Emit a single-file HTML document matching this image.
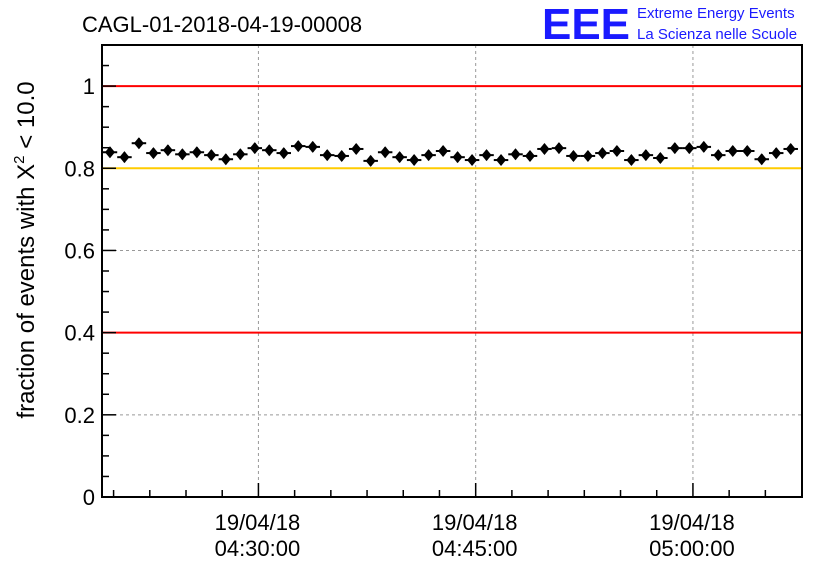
<!DOCTYPE html>
<html><head><meta charset="utf-8"><style>
body{margin:0;background:#fff;}
svg{font-family:"Liberation Sans",sans-serif;}
</style></head><body>
<svg id="c" width="836" height="572" xmlns="http://www.w3.org/2000/svg">
<text x="82" y="32" font-size="22">CAGL-01-2018-04-19-00008</text>
<g>
<text x="542" y="39" font-size="44" font-weight="bold" fill="#1a1aff" textLength="88" lengthAdjust="spacingAndGlyphs">EEE</text>
<text x="637" y="18" font-size="15" fill="#1a1aff">Extreme Energy Events</text>
<text x="637" y="39" font-size="15" fill="#1a1aff">La Scienza nelle Scuole</text>
</g>
<text transform="translate(34,250) rotate(-90)" text-anchor="middle" font-size="24">fraction of events with X<tspan dy="-10" font-size="15">2</tspan><tspan dy="10"> &lt; 10.0</tspan></text>
<g id="plot"></g>
</svg>
<script>
const values=[.839,.827,.861,.837,.844,.834,.839,.832,.822,.834,.849,.844,.837,.854,.852,.832,.830,.847,.818,.839,.827,.820,.832,.842,.827,.820,.832,.820,.834,.830,.847,.849,.830,.830,.837,.842,.820,.832,.825,.849,.849,.852,.832,.842,.842,.822,.837,.847];
const firstMinute=-10.25; // minutes relative to 04:30:00
const yTicks=[0,0.2,0.4,0.6,0.8,1];
const yTickLabels=["0","0.2","0.4","0.6","0.8","1"];
const xTicks=[0,15,30];
const xTickLabels=[["19/04/18","04:30:00"],["19/04/18","04:45:00"],["19/04/18","05:00:00"]];
const refLines=[[1,"#ff0000"],[0.8,"#ffcc00"],[0.4,"#ff0000"]];
const L=102,R=802,T=45,B=497,xMin=-10.8,xMax=37.53,yMin=0,yMax=1.1;
const X=m=>L+(m-xMin)/(xMax-xMin)*(R-L);
const Y=v=>B-(v-yMin)/(yMax-yMin)*(B-T);
const g=document.getElementById('plot');
const NS="http://www.w3.org/2000/svg";
function mk(t,a,p){const e=document.createElementNS(NS,t);for(const k in a)e.setAttribute(k,a[k]);(p||g).appendChild(e);return e;}
yTicks.forEach(v=>{if(v>0&&v<1.1){const e=mk('line',{x1:L,x2:R,y1:Y(v),y2:Y(v),stroke:'#999','stroke-dasharray':'3,3'});

}});
xTicks.forEach(m=>{const e=mk('line',{x1:X(m),x2:X(m),y1:T,y2:B,stroke:'#999','stroke-dasharray':'3,3'});

});
refLines.forEach(r=>{const e=mk('line',{x1:L,x2:R,y1:Y(r[0]),y2:Y(r[0]),stroke:r[1],'stroke-width':2});

});
const f=mk('rect',{x:L,y:T,width:R-L,height:B-T,fill:'none',stroke:'#000','stroke-width':2});


for(let v=0;v<=1.1001;v+=0.05){const big=Math.abs(v*10-Math.round(v*10))<1e-6&&Math.round(v*10)%2==0;const len=big?14:7;
mk('line',{x1:L,x2:L+len,y1:Y(v),y2:Y(v),stroke:'#000','stroke-width':1.5});}
yTicks.forEach((v,i)=>{const t=mk('text',{x:L-7,y:Y(v)+8,'text-anchor':'end','font-size':22});t.textContent=yTickLabels[i];

});
for(let m=-10;m<=37;m+=2.5){const big=m%15==0;const len=big?14:7;
mk('line',{x1:X(m),x2:X(m),y1:B,y2:B-len,stroke:'#000','stroke-width':1.5});}
xTicks.forEach((m,i)=>{xTickLabels[i].forEach((s,j)=>{const t=mk('text',{x:X(m)-1,y:530+j*26,'text-anchor':'middle','font-size':22});t.textContent=s;

});});
values.forEach((v,i)=>{const m=firstMinute+i;const cx=X(m),cy=Y(v);
const pg=mk('g',{});


mk('line',{x1:X(m-0.5),x2:X(m+0.5),y1:cy,y2:cy,stroke:'#000','stroke-width':2},pg);
mk('line',{x1:cx,x2:cx,y1:cy-5,y2:cy+5,stroke:'#000','stroke-width':2},pg);
mk('polygon',{points:`${cx},${cy-6} ${cx+5},${cy} ${cx},${cy+6} ${cx-5},${cy}`,fill:'#000'},pg);});
</script>
</body></html>
